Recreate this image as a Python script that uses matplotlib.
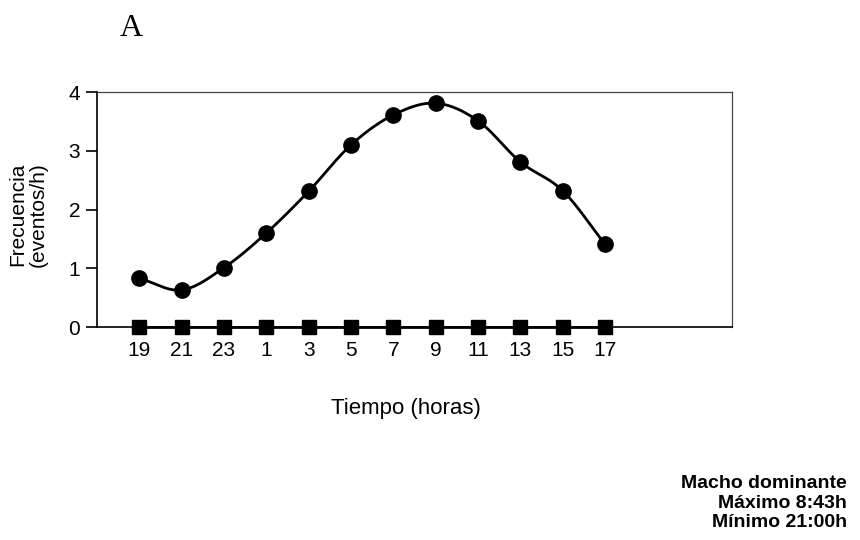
import numpy as np
import matplotlib
matplotlib.use("Agg")
import matplotlib.pyplot as plt

plt.rcParams['font.family'] = ['Liberation Sans', 'DejaVu Sans']

# horas del dia y frecuencia de eventos
horas = ['19', '21', '23', '1', '3', '5', '7', '9', '11', '13', '15', '17']
frecuencia = [0.83, 0.63, 1.01, 1.6, 2.31, 3.1, 3.61, 3.81, 3.51, 2.81, 2.32, 1.41]
base = [0, 0, 0, 0, 0, 0, 0, 0, 0, 0, 0, 0]


def suavizar(y, n=20):
    # curva tipo Catmull-Rom entre los puntos (como la linea suavizada de Excel)
    y = np.asarray(y, dtype=float)
    x = np.arange(len(y), dtype=float)
    px = np.concatenate([[2 * x[0] - x[1]], x, [2 * x[-1] - x[-2]]])
    py = np.concatenate([[2 * y[0] - y[1]], y, [2 * y[-1] - y[-2]]])
    xs, ys = [], []
    t = np.linspace(0, 1, n, endpoint=False)
    for i in range(1, len(px) - 2):
        for p, out in ((px, xs), (py, ys)):
            p0, p1, p2, p3 = p[i - 1], p[i], p[i + 1], p[i + 2]
            out.extend(0.5 * (2 * p1 + (-p0 + p2) * t
                              + (2 * p0 - 5 * p1 + 4 * p2 - p3) * t ** 2
                              + (-p0 + 3 * p1 - 3 * p2 + p3) * t ** 3))
    xs.append(x[-1])
    ys.append(y[-1])
    return np.array(xs), np.array(ys)


fig = plt.figure(figsize=(8.6, 5.4), dpi=100)
ax = fig.add_axes([0.1128, 0.3944, 0.7384, 0.4352])

pos = np.arange(len(horas))
cx, cy = suavizar(frecuencia)
ax.plot(cx, cy, color='black', lw=2)
ax.plot(pos, frecuencia, 'o', color='black', ms=11)
ax.plot(pos, base, '-s', color='black', lw=2, ms=10, clip_on=False, zorder=5)

ax.set_xlim(-1, 14)
ax.set_ylim(0, 4)
ax.set_xticks(pos)
ax.set_xticklabels(horas, fontsize=15)
ax.set_yticks([0, 1, 2, 3, 4])
ax.tick_params(axis='x', length=0, pad=10)
ax.tick_params(axis='y', length=8, width=1.2, labelsize=15, pad=4)

for s in ['top', 'right']:
    ax.spines[s].set_linewidth(0.9)
    ax.spines[s].set_color('#444444')
    ax.spines[s].set_linestyle((0, (4, 1)))
ax.spines['left'].set_linewidth(1.2)
ax.spines['bottom'].set_linewidth(1.2)

ax.set_ylabel('Frecuencia\n(eventos/h)', fontsize=15, linespacing=1.15)
ax.yaxis.set_label_coords(-0.077, 0.48)
ax.set_xlabel('Tiempo (horas)', fontsize=16)
ax.xaxis.set_label_coords(0.486, -0.30)

fig.text(0.153, 0.948, 'A', family='Liberation Serif', fontsize=23,
         ha='center', va='center')
fig.text(0.985, 0.0685, 'Macho dominante\nMáximo 8:43h\nMínimo 21:00h',
         ha='right', va='center', fontsize=14, fontweight='bold',
         linespacing=1.22)

fig.savefig('out.png', dpi=100, facecolor='white')
